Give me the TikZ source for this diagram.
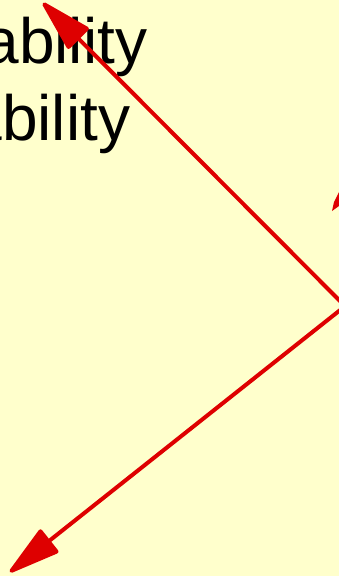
\documentclass[tikz,border=0pt]{standalone}
\usepackage{fontspec}
\setmainfont{Liberation Sans}
\usetikzlibrary{arrows.meta}
\definecolor{bgyellow}{RGB}{255,255,204}
\definecolor{arrred}{RGB}{222,0,0}
\begin{document}
\begin{tikzpicture}[x=1pt,y=-1pt,
  word/.style={anchor=base west,inner sep=0pt,font=\fontsize{64}{77}\selectfont,text=black},
  redarrow/.style={draw=arrred,line width=4pt,-{Triangle[length=57pt,width=30pt,round]}}]
\useasboundingbox (0,0) rectangle (339,576);
\clip (0,0) rectangle (339,576);
\fill[bgyellow] (0,0) rectangle (339,576);
\node[word] (w1) at (-16.6,63) {ability};
\node[word] (w2) at (-33.6,140) {ability};
\coordinate (src) at (344,305);
\coordinate (srcb) at (344,307);
\coordinate (tipa) at (43,3);
\coordinate (tipb) at (10,572);
\draw[redarrow] (src) -- (tipa);
\draw[redarrow] (srcb) -- (tipb);
\fill[arrred] (339,192) -- (334,202) -- (332,211) -- (339,206) -- cycle;
\end{tikzpicture}
\end{document}
